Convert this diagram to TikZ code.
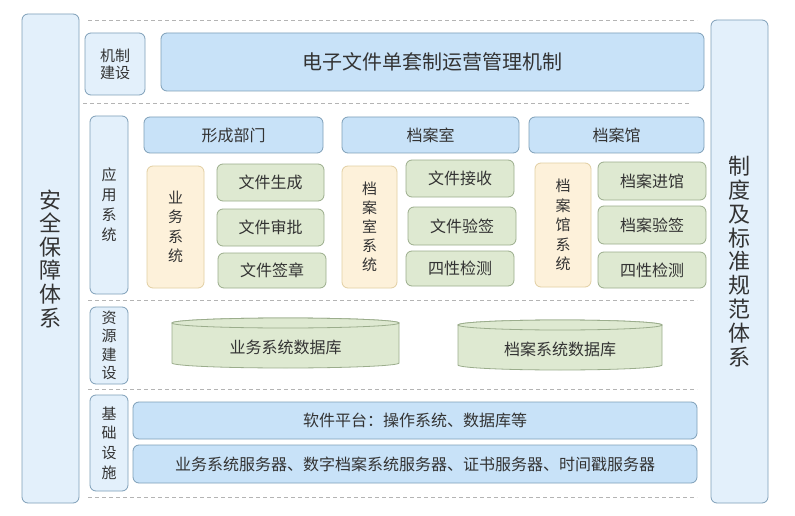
\documentclass[tikz,border=0pt]{standalone}
\usepackage{fontspec}
\newfontfamily\cjk{Noto Sans CJK SC}
\definecolor{txt}{HTML}{333333}
\definecolor{blueF}{HTML}{C8E2F8}
\definecolor{blueD}{HTML}{7E9FB8}
\definecolor{paleF}{HTML}{E3F0FB}
\definecolor{greenF}{HTML}{DEE9D1}
\definecolor{greenD}{HTML}{9BAD8C}
\definecolor{yelF}{HTML}{FDF1DA}
\definecolor{yelD}{HTML}{E2CFA2}
\definecolor{dashC}{HTML}{B4B4B4}
\tikzset{
  base/.style={rectangle, rounded corners=6pt, line width=0.8pt, inner sep=0pt, text=txt, align=center},
  bluebox/.style={base, draw=blueD, fill=blueF, font=\cjk\fontsize{16}{18}\selectfont},
  palebox/.style={base, draw=blueD, fill=paleF},
  greenbox/.style={base, draw=greenD, fill=greenF, font=\cjk\fontsize{16}{18}\selectfont},
  yelbox/.style={base, draw=yelD, fill=yelF},
  sepline/.style={draw=dashC, line width=0.8pt, dash pattern=on 4pt off 3pt},
  dbshape/.style={draw=greenD, fill=greenF, line width=0.8pt},
  dbtext/.style={text=txt, font=\cjk\fontsize{16}{18}\selectfont, inner sep=0pt},
}
\newcommand{\bx}[6]{% style, name, x1, y1, x2, y2
  \node[#1, minimum width={#5-#3}, minimum height={#6-#4}] (#2) at ({(#3+#5)/2},{(#4+#6)/2})}
\begin{document}
\begin{tikzpicture}[x=1pt,y=-1pt]
\useasboundingbox (0,0) rectangle (795,516);
\fill[white] (0,0) rectangle (795,516);

% dashed separators
\draw[sepline] (88,20) -- (697,20);
\draw[sepline] (83,103) -- (690,103);
\draw[sepline] (88,300) -- (697,300);
\draw[sepline] (88,389) -- (697,389);
\draw[sepline] (88,497) -- (697,497);

% side columns
\bx{palebox, font=\cjk\fontsize{22}{23.6}\selectfont}{safety}{22}{14}{79}{503}
  {安\\全\\保\\障\\体\\系};
\bx{palebox, font=\cjk\fontsize{22}{23.9}\selectfont}{norms}{711}{20}{768}{503}
  {制\\度\\及\\标\\准\\规\\范\\体\\系};

% mechanism row
\bx{palebox, font=\cjk\fontsize{15}{17}\selectfont}{mech}{85}{33}{145}{95}{机制\\建设};
\bx{bluebox, font=\cjk\fontsize{20}{22}\selectfont}{mechmain}{161}{33}{704}{91}{电子文件单套制运营管理机制};

% application row
\bx{palebox, font=\cjk\fontsize{15}{20}\selectfont}{app}{90}{116}{128}{294}{应\\用\\系\\统};
\bx{bluebox}{dept}{144}{117}{323}{153}{形成部门};
\bx{bluebox}{room}{342}{117}{519}{153}{档案室};
\bx{bluebox}{hall}{529}{117}{704}{153}{档案馆};

\bx{yelbox, font=\cjk\fontsize{15}{19.5}\selectfont}{bizsys}{147}{166}{204}{288}{业\\务\\系\\统};
\bx{greenbox}{gen}{217}{164}{324}{201}{文件生成};
\bx{greenbox}{appr}{217}{209}{324}{246}{文件审批};
\bx{greenbox}{seal}{218}{253}{326}{288}{文件签章};

\bx{yelbox, font=\cjk\fontsize{15}{19}\selectfont}{roomsys}{342}{166}{397}{288}{档\\案\\室\\系\\统};
\bx{greenbox}{recv}{406}{160}{514}{197}{文件接收};
\bx{greenbox}{verif}{408}{207}{516}{245}{文件验签};
\bx{greenbox}{four1}{406}{251}{514}{286}{四性检测};

\bx{yelbox, font=\cjk\fontsize{15}{19.5}\selectfont}{hallsys}{535}{163}{591}{287}{档\\案\\馆\\系\\统};
\bx{greenbox}{enter}{598}{162}{706}{200}{档案进馆};
\bx{greenbox}{averif}{598}{206}{706}{244}{档案验签};
\bx{greenbox}{four2}{598}{252}{706}{288}{四性检测};

% resource row
\bx{palebox, font=\cjk\fontsize{15}{18.5}\selectfont}{res}{90}{307}{128}{384}{资\\源\\建\\设};
% database 1
\draw[dbshape] (172,323) -- (172,363) arc[start angle=180, end angle=0, x radius=113.5, y radius=5]
  -- (399,323) arc[start angle=0, end angle=-180, x radius=113.5, y radius=5] -- cycle;
\draw[dbshape] (285.5,323) ellipse [x radius=113.5, y radius=5];
\node[dbtext] (db1) at (285.5,347) {业务系统数据库};
% database 2
\draw[dbshape] (458,325) -- (458,365) arc[start angle=180, end angle=0, x radius=102, y radius=5]
  -- (662,325) arc[start angle=0, end angle=-180, x radius=102, y radius=5] -- cycle;
\draw[dbshape] (560,325) ellipse [x radius=102, y radius=5];
\node[dbtext] (db2) at (560,349) {档案系统数据库};

% infrastructure row
\bx{palebox, font=\cjk\fontsize{15}{19.7}\selectfont}{infra}{90}{395}{128}{491}{基\\础\\设\\施};
\bx{bluebox}{soft}{133}{402}{697}{439}{软件平台：操作系统、数据库等};
\bx{bluebox}{servers}{133}{445}{697}{483}{业务系统服务器、数字档案系统服务器、证书服务器、时间戳服务器};
\end{tikzpicture}
\end{document}
